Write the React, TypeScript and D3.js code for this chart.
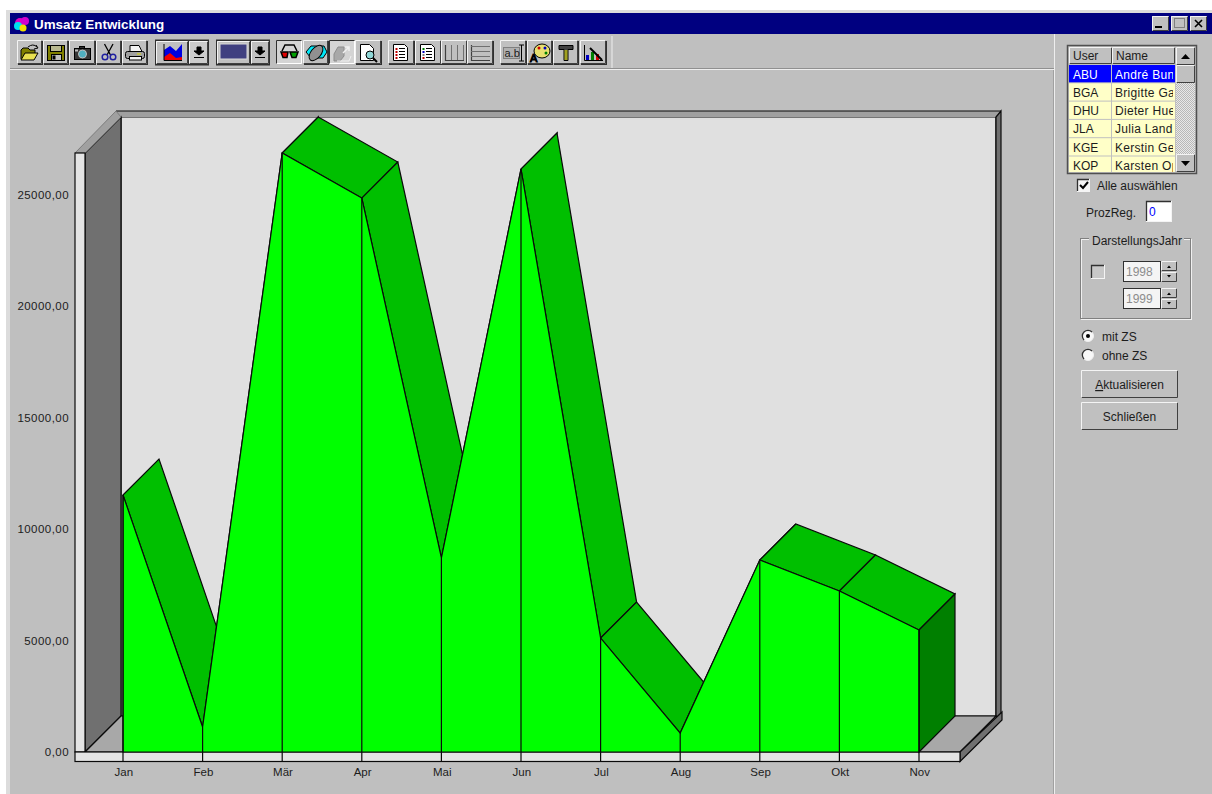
import React from "react";
import * as d3 from "d3";

const months = ["Jan","Feb","Mär","Apr","Mai","Jun","Jul","Aug","Sep","Okt","Nov"];
const umsatz = [11525,1120,26860,24840,8700,26140,5110,850,8610,7220,5470];
const yTicks = [0,5000,10000,15000,20000,25000];
const users = ["ABU","BGA","DHU","JLA","KGE","KOP"];
const names = ["André Bunge","Brigitte Gast","Dieter Huebner","Julia Landau","Kerstin Gerke","Karsten Opitz"];

const FONT = "'Liberation Sans', Arial, sans-serif";
const DEPTH = 36;
const x = d3.scalePoint<string>().domain(months).range([123, 919]);
const y = d3.scaleLinear().domain([0, 25000]).range([752, 194.5]);
const pts = (a: number[][]) => a.map(p => p.join(",")).join(" ");
const fmt = (v: number) => v.toFixed(2).replace(".", ",");

function Btn({ x, y, w, h, pressed = false, fill = "#c0c0c0", heavy = false }: any) {
  const tl = pressed ? "#303030" : "#f4f4f4";
  const br = pressed ? "#ffffff" : "#404040";
  return (
    <g>
      {heavy && !pressed ? <rect x={x + 1} y={y + 1} width={w} height={h} fill="#303030" /> : null}
      <rect x={x} y={y} width={w} height={h} fill={fill} />
      <path d={`M${x + .5} ${y + h - .5}H${x + w - .5}V${y + .5}`} fill="none" stroke={br} />
      <path d={`M${x + .5} ${y + h - .5}V${y + .5}H${x + w - .5}`} fill="none" stroke={tl} />
    </g>
  );
}

function Sunken({ x, y, w, h, fill }: any) {
  return (
    <g>
      <rect x={x + .5} y={y + .5} width={w} height={h} fill={fill} stroke="#f4f4f4" />
      <path d={`M${x + .5} ${y + h}V${y + .5}H${x + w}`} fill="none" stroke="#303030" strokeWidth={1.3} />
    </g>
  );
}

function Label({ x, y, children, anchor = "start", fill = "#1c1c1c", size = 12, spacing = 0 }: any) {
  return <text x={x} y={y} textAnchor={anchor} fill={fill} fontSize={size} letterSpacing={spacing} fontFamily={FONT}>{children}</text>;
}

function Arrow({ cx }: { cx: number }) {
  return <path d={`M${cx - 2} 47h4v4h3l-5 4-5-4h3zM${cx - 5} 57.500h10`} fill="#000" stroke="#000" />;
}

function Icon({ i, x: bx }: { i: string; x: number }) {
  const t = 44;
  const s = { stroke: "#000", strokeWidth: 1 };
  switch (i) {
    case "open": return <g {...s}>
      <path d={`M${bx + 4} ${t + 15}v-9l2-2h5l2 2h5v3`} fill="#808000" />
      <path d={`M${bx + 4} ${t + 16}l4-7h13l-4 7z`} fill="#e8e050" />
      <path d={`M${bx + 11} ${t + 3}q5-4 9 0`} fill="none" />
      <path d={`M${bx + 19} ${t + 1}l2 3l-4 1`} fill="none" />
    </g>;
    case "save": return <g {...s}>
      <rect x={bx + 4.5} y={t + 1.500} width={17} height={15} fill="#808000" />
      <rect x={bx + 7.5} y={t + 1.500} width={11} height={6} fill="#b8b890" />
      <rect x={bx + 8.5} y={t + 10.500} width={10} height={6} fill="#c0c0c0" />
      <rect x={bx + 9.5} y={t + 11.500} width={3} height={4} fill="#000" stroke="none" />
    </g>;
    case "cam": return <g {...s}>
      <rect x={bx + 5.5} y={t + 4.500} width={16} height={11} fill="#383838" />
      <rect x={bx + 10.5} y={t + 2.500} width={5} height={2} fill="#303030" />
      <circle cx={bx + 13.500} cy={t + 10} r={4} fill="#50b0c0" stroke="#c0c0c0" />
      <rect x={bx + 6} y={t + 5.500} width={3} height={2} fill="#c0c0c0" stroke="none" />
    </g>;
    case "cut": return <g fill="none">
      <path d={`M${bx + 8.500} ${t + 0}l6 11M${bx + 17} ${t + 0}l-6 11`} stroke="#000" strokeWidth={1.3} />
      <circle cx={bx + 9} cy={t + 13} r={2.800} stroke="#2020a0" strokeWidth={1.500} />
      <circle cx={bx + 17} cy={t + 13} r={2.800} stroke="#2020a0" strokeWidth={1.500} />
    </g>;
    case "print": return <g {...s}>
      <path d={`M${bx + 8} ${t + 1.500}h9l3 6h-12z`} fill="#f4f4f4" />
      <rect x={bx + 3.5} y={t + 7.500} width={19} height={7} rx={2} fill="#a0a0a0" />
      <rect x={bx + 7.5} y={t + 12.500} width={12} height={3.500} fill="#f4f4f4" />
      <rect x={bx + 15} y={t + 9.500} width={4} height={1} fill="#e0e000" stroke="none" />
    </g>;
    case "glasses": return <g stroke="#000" strokeWidth={1.500}>
      <path d={`M${bx + 6} ${t + 7}l3-6h9l3 6`} fill="none" />
      <path d={`M${bx + 5} ${t + 8}h7l-1 5.500h-4z`} fill="#e00000" />
      <path d={`M${bx + 14} ${t + 8}h8l-2 5.500h-4z`} fill="#00a000" />
    </g>;
    case "rot": return <g {...s}>
      <path d={`M${bx + 3} ${t + 8}l5-6h13l3 6-4 6h-12z`} fill="#00e8f8" />
      <ellipse cx={bx + 13} cy={t + 9} rx={5} ry={9} fill="#909090" transform={`rotate(40 ${bx + 13} ${t + 9})`} />
    </g>;
    case "pages": return <g>
      <path d={`M${bx + 5} ${t + 10}l4-7h6v9l-4 5h-6z`} fill="#a8a8a8" stroke="#8c8c8c" />
      <path d={`M${bx + 14} ${t + 9}l6-6m-4 0h4v4`} fill="none" stroke="#f0f0f0" strokeWidth={1.500} />
      <path d={`M${bx + 8} ${t + 17}h12l2-5`} fill="none" stroke="#f0f0f0" />
    </g>;
    case "zoom": return <g {...s}>
      <path d={`M${bx + 5.500} ${t + .500}h9l4 4v12h-13z`} fill="#fff" />
      <circle cx={bx + 15} cy={t + 11} r={4} fill="#90d8d8" />
      <path d={`M${bx + 18} ${t + 14}l4 4`} strokeWidth={2} />
    </g>;
    case "list1":
    case "list2": return <g {...s}>
      <path d={`M${bx + 5.500} ${t + .500}h11l3 3v13h-14z`} fill="#fff" />
      {[4, 7, 10, 13].map((d, k) => <g key={d}>
        <path d={`M${bx + 11} ${t + d + .500}h6`} stroke="#000" />
        <rect x={bx + 7.5} y={t + d} width={2} height={2} stroke="none" fill={i === "list2" ? ["#008000", "#0000c0", "#808080", "#c00000"][k] : "#c00000"} />
      </g>)}
    </g>;
    case "vgrid": return <g stroke="#404040" fill="none">
      <path d={`M${bx + 4.500} ${t + 1}V${t + 16.500}H${bx + 23}`} strokeWidth={1.200} />
      <path d={`M${bx + 10.500} ${t + 1}V${t + 16}M${bx + 16.500} ${t + 1}V${t + 16}M${bx + 22.500} ${t + 1}V${t + 16}`} stroke="#707070" />
    </g>;
    case "hgrid": return <g stroke="#404040" fill="none">
      <path d={`M${bx + 4.500} ${t + 1}V${t + 16.500}H${bx + 23}`} strokeWidth={1.200} />
      <path d={`M${bx + 4} ${t + 2.500}H${bx + 23}M${bx + 4} ${t + 7.500}H${bx + 23}M${bx + 4} ${t + 12.500}H${bx + 23}`} stroke="#707070" />
    </g>;
    case "ab": return <g>
      <rect x={bx + 3.5} y={t + 3.500} width={16} height={11} fill="#b0b0b0" stroke="#808080" />
      <Label x={bx + 4.500} y={t + 13} size={11}>a.b</Label>
      <path d={`M${bx + 21.500} ${t + 1}v16M${bx + 19} ${t + 1}h5M${bx + 19} ${t + 17}h5`} stroke="#000" fill="none" />
    </g>;
    case "paint": return <g {...s}>
      <ellipse cx={bx + 15} cy={t + 7} rx={8} ry={7} fill="#e8e070" />
      <circle cx={bx + 12} cy={t + 4} r={1.500} fill="#d00000" stroke="none" />
      <circle cx={bx + 18} cy={t + 4} r={1.500} fill="#0000c0" stroke="none" />
      <circle cx={bx + 19} cy={t + 9} r={1.500} fill="#008000" stroke="none" />
      <Label x={bx + 3} y={t + 18} size={11} fill="#000">A</Label>
    </g>;
    case "hammer": return <g {...s}>
      <path d={`M${bx + 6} ${t + 1.500}h14v4h-5v11h-4v-11h-5z`} fill="#404040" />
      <rect x={bx + 11.5} y={t + 6} width={3} height={10} fill="#a0a020" stroke="none" />
    </g>;
    default: return <g>
      <path d={`M${bx + 4.500} ${t + 1}V${t + 16.500}H${bx + 23}`} stroke="#000" fill="none" />
      <rect x={bx + 6} y={t + 11} width={3} height={5} fill="#0000c0" />
      <rect x={bx + 11} y={t + 8} width={3} height={8} fill="#008000" />
      <rect x={bx + 16} y={t + 10} width={3} height={6} fill="#d00000" />
      <path d={`M${bx + 10} ${t + 4}l12 12`} stroke="#000" strokeWidth={2} />
    </g>;
  }
}

const toolButtons: [string, number, number, boolean][] = [
  ["open",17,25,false],["save",43,25,false],["cam",69,26,false],["cut",96,25,false],["print",122,25,false],
  ["glasses",276,26,true],["rot",303,25,false],["pages",329,26,true],["zoom",355,26,false],
  ["list1",388,26,false],["list2",415,26,false],["vgrid",441,26,false],["hgrid",467,26,false],
  ["ab",500,26,false],["paint",527,25,false],["hammer",553,25,false],["chart",580,26,false],
];

function Toolbar() {
  return (
    <g>
      {toolButtons.map(([n, bx, w, p]) => (
        <g key={n}>
          <Btn x={bx} y={40} w={w} h={24} pressed={p} fill={p ? "#d4d4d4" : "#c0c0c0"} heavy />
          <Icon i={n} x={bx} />
        </g>
      ))}
      {/* chart-type combo */}
      <rect x={155} y={39.500} width={54} height={26} fill="#303030" />
      <Btn x={156} y={41} w={32} h={23} />
      <Btn x={189} y={41} w={19} h={23} fill="#cccccc" />
      <path d="M164 60V50l6-4 6 5 6-7v16z" fill="#0000e0" />
      <path d="M164 60v-3l6-4 6 5 6-1v3z" fill="#f00000" />
      <path d="M164 44V60.500H182" fill="none" stroke="#000" />
      <Arrow cx={199} />
      {/* colour combo */}
      <rect x={216} y={39.500} width={54} height={26} fill="#303030" />
      <Btn x={217} y={41} w={33} h={23} />
      <Btn x={251} y={41} w={18} h={23} />
      <rect x={220} y={44} width={27} height={15} fill="#404080" stroke="#d8d8d8" />
      <Arrow cx={260} />
    </g>
  );
}

function WindowFrame() {
  return (
    <g>
      <rect width={1212} height={794} fill="#ffffff" />
      <rect x={6} y={10} width={1206} height={784} fill="#dcdcdc" />
      <rect x={10} y={13} width={1202} height={781} fill="#bfbfbf" />
      <rect x={10} y={13} width={1202} height={21} fill="#000080" />
      <circle cx={20} cy={23} r={5} fill="#e000c0" />
      <circle cx={25} cy={21} r={4} fill="#d000d0" />
      <circle cx={18} cy={26} r={4} fill="#00e0f0" />
      <circle cx={23} cy={28} r={3.500} fill="#f0e000" />
      <text x={34} y={28.500} fill="#fff" fontSize={13.400} fontWeight="bold" fontFamily={FONT}>Umsatz Entwicklung</text>
      <Btn x={1152} y={16} w={17} h={15} />
      <path d="M1155 27h7" stroke="#000" strokeWidth={2} />
      <Btn x={1171} y={16} w={17} h={15} />
      <rect x={1174.500} y={18.500} width={10} height={9} fill="none" stroke="#808080" />
      <Btn x={1190} y={16} w={17} h={15} />
      <path d="M1195 20l7 7M1202 20l-7 7" stroke="#000" strokeWidth={1.600} />
      <path d="M10 69.500H1054" stroke="#eeeeee" />
      <path d="M10 68.500H1054" stroke="#909090" />
      <path d="M612 36V68" stroke="#eeeeee" />
      <path d="M1054.500 34V794" stroke="#eeeeee" />
      <path d="M1053.500 70V794" stroke="#a0a0a0" />
    </g>
  );
}

function Chart() {
  const X = (m: string) => x(m) as number;
  const front = months.map((m, i) => [X(m), y(umsatz[i])]);
  const area = d3.area<number>().x((_, i) => X(months[i])).y0(y(0)).y1(v => y(v));
  const [x0, x1] = [85, 960];
  const y0 = y(0);
  const wallTop = y0 - 599;
  const lastX = X(months[months.length - 1]);
  const lastY = y(umsatz[umsatz.length - 1]);
  const s = { stroke: "#0a0a0a", strokeWidth: 1.200 };
  return (
    <g>
      {/* back wall */}
      <polygon points={pts([[x0 + DEPTH, wallTop - DEPTH], [x1 + DEPTH, wallTop - DEPTH], [x1 + DEPTH, y0 - DEPTH], [x0 + DEPTH, y0 - DEPTH]])} fill="#e0e0e0" {...s} />
      {/* rim along wall top and right side */}
      <polygon points={pts([[x0 + DEPTH, wallTop - DEPTH], [x1 + DEPTH, wallTop - DEPTH], [x1 + DEPTH + 5, wallTop - DEPTH - 6], [x0 + DEPTH - 5, wallTop - DEPTH - 6]])} fill="#a0a0a0" />
      <path d={`M${x0 + DEPTH - 5} ${wallTop - DEPTH - 6}H${x1 + DEPTH + 5}`} {...s} />
      <polygon points={pts([[x1 + DEPTH, wallTop - DEPTH], [x1 + DEPTH + 5, wallTop - DEPTH - 6], [x1 + DEPTH + 5, y0 - DEPTH + 4], [x1 + DEPTH, y0 - DEPTH]])} fill="#707070" {...s} />
      {/* left wall */}
      <polygon points={pts([[x0, wallTop], [x0 + DEPTH, wallTop - DEPTH], [x0 + DEPTH, y0 - DEPTH], [x0, y0]])} fill="#707070" {...s} />
      <polygon points={pts([[x0 - 10, wallTop], [x0, wallTop], [x0 + DEPTH, wallTop - DEPTH], [x0 + DEPTH - 5, wallTop - DEPTH - 6]])} fill="#a0a0a0" stroke="#707070" strokeWidth={0.800} />
      <rect x={x0 - 10} y={wallTop} width={10} height={y0 - wallTop} fill="#e4e4e4" {...s} />
      {/* floor */}
      <polygon points={pts([[x0, y0], [x0 + DEPTH, y0 - DEPTH], [x1 + DEPTH, y0 - DEPTH], [x1, y0]])} fill="#a8a8a8" {...s} />
      <polygon points={pts([[x1, y0], [x1 + 42, y0 - 40], [x1 + 42, y0 - 32], [x1, y0 + 9.500]])} fill="#707070" {...s} />
      <rect x={x0 - 10} y={y0} width={x1 - x0 + 10} height={9.500} fill="#e4e4e4" {...s} />
      {/* ribbon tops */}
      {front.slice(0, -1).map((p, i) => {
        const q = front[i + 1];
        return <polygon key={months[i]} points={pts([p, [p[0] + DEPTH, p[1] - DEPTH], [q[0] + DEPTH, q[1] - DEPTH], q])} fill="#00bf00" {...s} />;
      })}
      {/* end cap */}
      <polygon points={pts([[lastX, lastY], [lastX + DEPTH, lastY - DEPTH], [lastX + DEPTH, y0 - DEPTH], [lastX, y0]])} fill="#007f00" {...s} />
      {/* front face */}
      <path d={area(umsatz) as string} fill="#00ff00" {...s} />
      {months.map((m, i) => (
        <g key={m}>
          <line x1={X(m)} x2={X(m)} y1={y(umsatz[i])} y2={y0 + 9.500} {...s} />
          <Label x={X(m) + .800} y={776} anchor="middle" size={11.500}>{m}</Label>
        </g>
      ))}
      {yTicks.map(t => <Label key={t} x={69} y={y(t) + 4} anchor="end" size={11.500} spacing={0.450}>{fmt(t)}</Label>)}
    </g>
  );
}

function SidePanel() {
  const rowY = (i: number) => 65 + i * 18.300;
  return (
    <g>
      <defs>
        <clipPath id="colName"><rect x={1112} y={47} width={61} height={125} /></clipPath>
        <clipPath id="tableClip"><rect x={1069} y={47} width={126} height={125} /></clipPath>
        <pattern id="dither" width={2} height={2} patternUnits="userSpaceOnUse">
          <rect width={2} height={2} fill="#e8e8e8" />
          <rect width={1} height={1} fill="#b8b8b8" />
          <rect x={1} y={1} width={1} height={1} fill="#b8b8b8" />
        </pattern>
      </defs>
      <rect x={1067.500} y={45.500} width={129} height={128} fill="#c0c0c0" stroke="#505050" strokeWidth={1.500} />
      <Btn x={1069} y={47} w={43} h={17} />
      <Btn x={1112} y={47} w={63} h={17} />
      <Label x={1073} y={60}>User</Label>
      <Label x={1116} y={60}>Name</Label>
      <g clipPath="url(#tableClip)">
        {users.map((u, i) => {
          const sel = i === 0;
          return (
            <g key={u}>
              <rect x={1069} y={rowY(i)} width={42} height={17.300} fill={sel ? "#0000ff" : "#ffffc8"} />
              <rect x={1112} y={rowY(i)} width={63} height={17.300} fill={sel ? "#0000ff" : "#ffffc8"} />
              <Label x={1073} y={rowY(i) + 13.500} fill={sel ? "#ffffff" : "#1c1c1c"}>{u}</Label>
              <g clipPath="url(#colName)">
                <Label x={1115} y={rowY(i) + 13.500} spacing={0.300} fill={sel ? "#ffffff" : "#1c1c1c"}>{names[i]}</Label>
              </g>
            </g>
          );
        })}
      </g>
      <rect x={1176} y={47} width={19} height={125} fill="url(#dither)" />
      <Btn x={1176} y={47} w={19} h={18} />
      <path d="M1181 59h9l-4.500-5z" fill="#000" />
      <Btn x={1176} y={65} w={19} h={18} />
      <Btn x={1176} y={154} w={19} h={18} />
      <path d="M1181 161h9l-4.500 5z" fill="#000" />

      <Sunken x={1077} y={179} w={12} h={12} fill="#f4f4f4" />
      <path d="M1080 185l3 3 5-6" fill="none" stroke="#000" strokeWidth={2} />
      <Label x={1097} y={190}>Alle auswählen</Label>
      <Label x={1086} y={217}>ProzReg.</Label>
      <Sunken x={1146} y={201} w={25} h={20} fill="#fff" />
      <Label x={1149} y={216} fill="#0000ff">0</Label>

      <rect x={1081.500} y={239.500} width={110} height={80} fill="none" stroke="#f0f0f0" />
      <rect x={1080.500} y={238.500} width={110} height={80} fill="none" stroke="#808080" />
      <rect x={1089} y={234} width={95} height={12} fill="#bfbfbf" />
      <Label x={1092} y={245}>DarstellungsJahr</Label>
      <Sunken x={1091} y={265} w={13} h={13} fill="#c8c8c8" />
      {["1998", "1999"].map((yr, i) => {
        const ty = 261 + i * 27;
        return (
          <g key={yr}>
            <rect x={1123.500} y={ty + .500} width={37} height={20} fill="#f4f4f4" stroke="#303030" />
            <Label x={1126} y={ty + 14.500} fill="#8c8c8c">{yr}</Label>
            <Btn x={1161} y={ty} w={16} h={10} />
            <Btn x={1161} y={ty + 11} w={16} h={10} />
            <path d={`M1167 ${ty + 7}h4l-2-2.500z M1167 ${ty + 14}h4l-2 2.500z`} fill="#000" />
          </g>
        );
      })}
      {["mit ZS", "ohne ZS"].map((r, i) => {
        const cy = 336 + i * 19;
        return (
          <g key={r}>
            <circle cx={1088} cy={cy} r={5.500} fill="#f8f8f8" stroke="#f0f0f0" />
            <path d={`M${1084} ${cy + 4}A5.500 5.500 0 1 1 ${1092} ${cy - 4}`} fill="none" stroke="#303030" strokeWidth={1.300} />
            {i === 0 ? <circle cx={1088} cy={cy} r={2} fill="#000" /> : null}
            <Label x={1102} y={cy + 5}>{r}</Label>
          </g>
        );
      })}
      <Btn x={1081} y={370} w={97} h={28} />
      <Label x={1129.500} y={389} anchor="middle"><tspan textDecoration="underline">A</tspan>ktualisieren</Label>
      <Btn x={1081} y={402} w={97} h={28} />
      <Label x={1129.500} y={421} anchor="middle">Schließen</Label>
    </g>
  );
}

export default function App() {
  return (
    <svg width={1212} height={794} viewBox="0 0 1212 794" style={{ position: "absolute", left: 0, top: 0, display: "block" }}>
      <WindowFrame />
      <Toolbar />
      <Chart />
      <SidePanel />
    </svg>
  );
}
